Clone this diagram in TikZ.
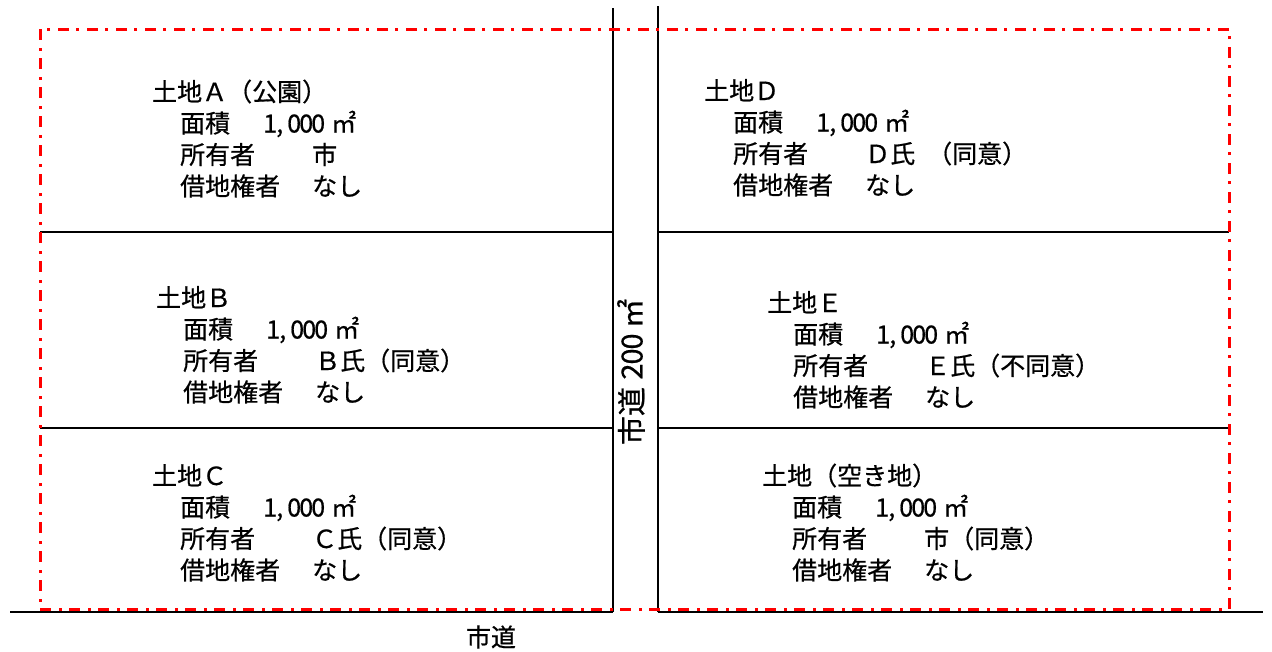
\documentclass[tikz,border=0pt]{standalone}
\usepackage{fontspec}
\setmainfont{Noto Sans CJK JP}[FakeBold=0.6]
\newcommand\hc[1]{\makebox[12pt][c]{#1}}
\newcommand\hcl[1]{\makebox[12pt][l]{#1}}
\newcommand\landblock[6]{%
  \node[lbl] (#1t) at (#2,#4+9) {#5};
  \node[lbl] (#1a) at (#3,#4+40.5) {\makebox[84pt][l]{面積}\hc{1}\hcl{,}\hc{0}\hc{0}\hc{0}\hspace{7pt}㎡};
  \node[lbl] (#1o) at (#3,#4+72) {\makebox[132pt][l]{所有者}#6};
  \node[lbl] (#1l) at (#3,#4+103.5) {\makebox[132pt][l]{借地権者}なし};
}
\begin{document}
\begin{tikzpicture}[x=1pt,y=-1pt,
  roadline/.style={line width=2pt,black},
  divline/.style={line width=1.6pt,black},
  baseline/.style={line width=2.4pt,black},
  planline/.style={red,line width=3pt,dash pattern=on 11pt off 8pt on 3pt off 7pt},
  lbl/.style={anchor=base west,inner sep=0pt,font=\fontsize{25}{29}\selectfont},
  roadlbl/.style={inner sep=0pt,font=\fontsize{29}{33}\selectfont}]
\useasboundingbox (0,0) rectangle (1272,651);
\fill[white] (0,0) rectangle (1272,651);
% road and ground lines
\coordinate (lrTop) at (613,8);
\coordinate (lrBot) at (613,612);
\coordinate (rrTop) at (658,6);
\coordinate (rrBot) at (658,612);
\coordinate (gL) at (10,612);
\coordinate (gR) at (1263,612);
\draw[divline] (40,232) -- (613,232);
\draw[divline] (40,428) -- (613,428);
\draw[divline] (658,232) -- (1229,232);
\draw[divline] (658,428) -- (1229,428);
\draw[baseline] (gL) -- (lrBot);
\draw[baseline] (rrBot) -- (gR);
\draw[roadline] (lrTop) -- (lrBot);
\draw[roadline] (rrTop) -- (rrBot);
% development area
\draw[planline] (40,29) rectangle (1229,609);
% land blocks
\landblock{A}{152}{180}{92}{土地Ａ（公園）}{市}
\landblock{B}{156}{183}{298}{土地Ｂ}{Ｂ氏（同意）}
\landblock{C}{152}{180}{476}{土地Ｃ}{Ｃ氏（同意）}
\landblock{D}{704}{733}{91}{土地Ｄ}{Ｄ氏\hspace{12pt}（同意）}
\landblock{E}{767}{793}{303}{土地Ｅ}{Ｅ氏（不同意）}
\landblock{F}{762}{792}{476}{土地（空き地）}{市（同意）}
% road labels
\node[roadlbl,rotate=90] (road) at (631,372) {市道\hspace{8pt}\makebox[15pt]{2}\makebox[15pt]{0}\makebox[15pt]{0}\hspace{6pt}㎡};
\node[lbl,anchor=center] (street) at (491,637) {市道};
\end{tikzpicture}
\end{document}
